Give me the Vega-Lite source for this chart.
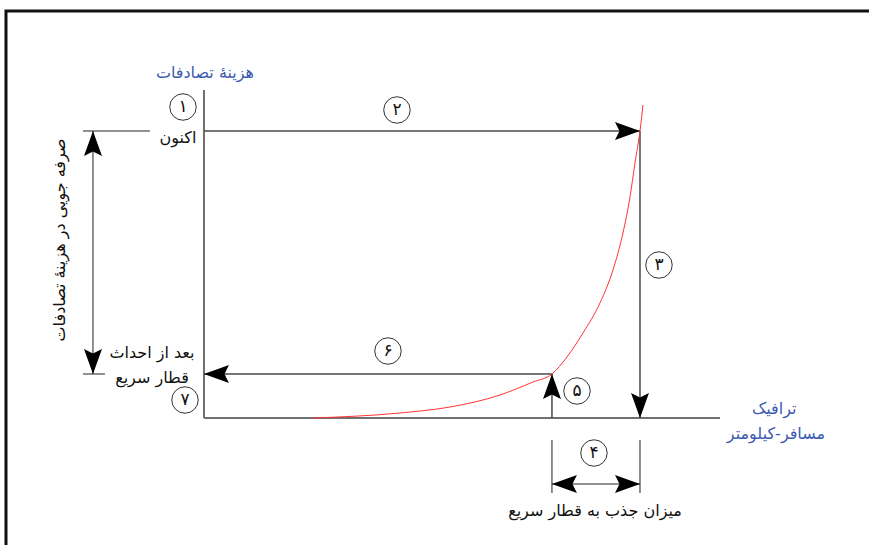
{
  "$schema": "https://vega.github.io/schema/vega-lite/v6.json",
  "width": 869,
  "height": 545,
  "padding": 0,
  "autosize": {"type": "none"},
  "background": "white",
  "config": {"view": {"stroke": null}},
  "datasets": {
    "frame": [{"x": -38.37, "y": 141.8, "x2": 160, "y2": -70}],
    "axes": [
      {"x": 0, "y": 0, "x2": 0, "y2": 114.3},
      {"x": 0, "y": 0, "x2": 100, "y2": 0}
    ],
    "arrows": [
      {"x": 0, "y": 100, "x2": 84.5, "y2": 100},
      {"x": 84.5, "y": 100, "x2": 84.5, "y2": 0},
      {"x": 67.44, "y": 0, "x2": 67.44, "y2": 15.33},
      {"x": 67.44, "y": 15.33, "x2": 0, "y2": 15.33}
    ],
    "dims": [
      {"x": -23.45, "y": 100, "x2": -10.47, "y2": 100},
      {"x": -23.45, "y": 15.33, "x2": -19.19, "y2": 15.33},
      {"x": -21.51, "y": 100, "x2": -21.51, "y2": 15.33},
      {"x": 67.44, "y": -7.67, "x2": 67.44, "y2": -26.13},
      {"x": 84.5, "y": -7.67, "x2": 84.5, "y2": -26.13},
      {"x": 67.44, "y": -23.0, "x2": 84.5, "y2": -23.0}
    ],
    "curve": [
      {"x": 21.12, "y": 0},
      {"x": 37.98, "y": 1.74},
      {"x": 47.67, "y": 3.83},
      {"x": 57.36, "y": 8.01},
      {"x": 63.76, "y": 12.54},
      {"x": 67.44, "y": 15.33},
      {"x": 70.35, "y": 21.25},
      {"x": 73.45, "y": 29.62},
      {"x": 76.74, "y": 40.07},
      {"x": 79.26, "y": 51.57},
      {"x": 81.2, "y": 64.46},
      {"x": 82.56, "y": 77.0},
      {"x": 83.53, "y": 88.85},
      {"x": 84.5, "y": 100},
      {"x": 85.08, "y": 109.06}
    ],
    "heads": [
      {"x": 84.5, "y": 100, "dir": "right"},
      {"x": 84.5, "y": 0, "dir": "down"},
      {"x": 67.44, "y": 15.33, "dir": "up"},
      {"x": 0, "y": 15.33, "dir": "left"},
      {"x": -21.51, "y": 100, "dir": "up"},
      {"x": -21.51, "y": 15.33, "dir": "down"},
      {"x": 67.44, "y": -23.0, "dir": "left"},
      {"x": 84.5, "y": -23.0, "dir": "right"}
    ],
    "circles": [
      {"x": -4.07, "y": 108.36, "n": "۱"},
      {"x": 37.4, "y": 107.32, "n": "۲"},
      {"x": 88.18, "y": 53.31, "n": "۳"},
      {"x": 75.58, "y": -12.2, "n": "۴"},
      {"x": 72.29, "y": 9.41, "n": "۵"},
      {"x": 35.66, "y": 23.34, "n": "۶"},
      {"x": -3.68, "y": 6.27, "n": "۷"}
    ],
    "blackLabels": [
      {"x": -5.04, "y": 97.4, "t": "اکنون"},
      {"x": -10.08, "y": 22.6, "t": "بعد از احداث"},
      {"x": -10.08, "y": 13.9, "t": "قطار سریع"},
      {"x": 75.78, "y": -32.4, "t": "میزان جذب به قطار سریع"}
    ],
    "blueLabels": [
      {"x": 0.19, "y": 120.2, "t": "هزینهٔ تصادفات"},
      {"x": 110.5, "y": 3.14, "t": "ترافیک"},
      {"x": 110.85, "y": -5.57, "t": "مسافر-کیلومتر"}
    ],
    "sideLabel": [
      {"x": -27.9, "y": 62.0, "t": "صرفه جویی در هزینهٔ تصادفات"}
    ]
  },
  "encoding": {
    "x": {"field": "x", "type": "quantitative", "scale": {"domain": [-39.53, 128.88], "nice": false, "zero": false}, "axis": null},
    "y": {"field": "y", "type": "quantitative", "scale": {"domain": [-44.25, 145.64], "nice": false, "zero": false}, "axis": null}
  },
  "layer": [
    {
      "data": {"name": "frame"},
      "mark": {"type": "rect", "fill": null, "stroke": "#111111", "strokeWidth": 3},
      "encoding": {"x2": {"field": "x2"}, "y2": {"field": "y2"}}
    },
    {
      "data": {"name": "axes"},
      "mark": {"type": "rule", "color": "#707070", "strokeWidth": 2},
      "encoding": {"x2": {"field": "x2"}, "y2": {"field": "y2"}}
    },
    {
      "data": {"name": "arrows"},
      "mark": {"type": "rule", "color": "#484848", "strokeWidth": 1.5},
      "encoding": {"x2": {"field": "x2"}, "y2": {"field": "y2"}}
    },
    {
      "data": {"name": "dims"},
      "mark": {"type": "rule", "color": "#222222", "strokeWidth": 1},
      "encoding": {"x2": {"field": "x2"}, "y2": {"field": "y2"}}
    },
    {
      "data": {"name": "curve"},
      "mark": {"type": "line", "color": "#ff3333", "strokeWidth": 1, "interpolate": "monotone"},
      "encoding": {"order": {"field": "x", "type": "quantitative"}}
    },
    {
      "data": {"name": "heads"},
      "mark": {"type": "point", "filled": true, "color": "#000000", "opacity": 1, "size": 2500, "strokeWidth": 0},
      "encoding": {
        "shape": {
          "field": "dir", "type": "nominal", "legend": null,
          "scale": {
            "domain": ["right", "left", "up", "down"],
            "range": [
              "M 0 0 L -1 -0.36 L -0.82 0 L -1 0.36 Z",
              "M 0 0 L 1 -0.36 L 0.82 0 L 1 0.36 Z",
              "M 0 0 L -0.36 1 L 0 0.82 L 0.36 1 Z",
              "M 0 0 L -0.36 -1 L 0 -0.82 L 0.36 -1 Z"
            ]
          }
        }
      }
    },
    {
      "data": {"name": "circles"},
      "mark": {"type": "point", "shape": "circle", "filled": false, "fill": "white", "fillOpacity": 1, "stroke": "#333333", "strokeWidth": 1, "opacity": 1, "size": 700}
    },
    {
      "data": {"name": "circles"},
      "mark": {"type": "text", "font": "DejaVu Sans", "fontSize": 17, "color": "#111111", "align": "center", "baseline": "middle"},
      "encoding": {"text": {"field": "n"}}
    },
    {
      "data": {"name": "blackLabels"},
      "mark": {"type": "text", "font": "DejaVu Sans", "fontSize": 16, "color": "#111111", "align": "center", "baseline": "middle"},
      "encoding": {"text": {"field": "t"}}
    },
    {
      "data": {"name": "blueLabels"},
      "mark": {"type": "text", "font": "DejaVu Sans", "fontSize": 16, "color": "#3a5bb0", "align": "center", "baseline": "middle"},
      "encoding": {"text": {"field": "t"}}
    },
    {
      "data": {"name": "sideLabel"},
      "mark": {"type": "text", "font": "DejaVu Sans", "fontSize": 16, "color": "#111111", "align": "center", "baseline": "middle", "angle": 270},
      "encoding": {"text": {"field": "t"}}
    }
  ]
}
